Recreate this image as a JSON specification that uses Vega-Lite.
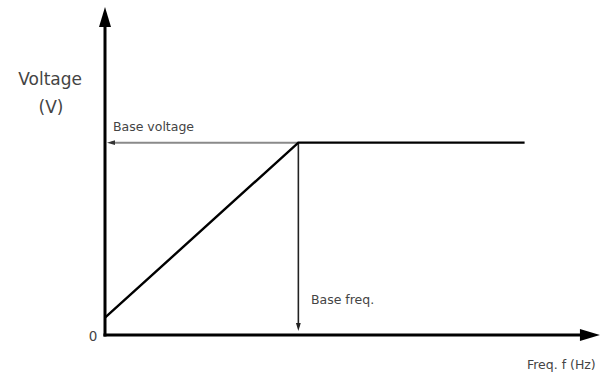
{
  "$schema": "https://vega.github.io/schema/vega-lite/v6.json",
  "width": 495,
  "height": 327,
  "autosize": {"type": "none"},
  "padding": {"left": 105, "top": 8, "right": 2, "bottom": 43},
  "background": "white",
  "config": {
    "view": {"stroke": null},
    "text": {"font": "DejaVu Sans", "color": "#444444"}
  },
  "layer": [
    {
      "description": "Frequency and voltage axes",
      "data": {"values": [
        {"f": -0.8, "v": 0, "f2": 250.8, "v2": 0},
        {"f": 0, "v": -0.8, "f2": 0, "v2": 165.3}
      ]},
      "mark": {"type": "rule", "color": "black", "strokeWidth": 3},
      "encoding": {
        "x": {"field": "f", "type": "quantitative", "scale": {"domain": [0, 256], "nice": false, "zero": false}, "axis": null},
        "y": {"field": "v", "type": "quantitative", "scale": {"domain": [0, 170], "nice": false, "zero": false}, "axis": null},
        "x2": {"field": "f2"},
        "y2": {"field": "v2"}
      }
    },
    {
      "description": "Base voltage guide",
      "data": {"values": [{"f": 100, "v": 100, "f2": 3.1, "v2": 100}]},
      "mark": {"type": "rule", "color": "#8a8a8a", "strokeWidth": 2},
      "encoding": {
        "x": {"field": "f", "type": "quantitative"},
        "y": {"field": "v", "type": "quantitative"},
        "x2": {"field": "f2"},
        "y2": {"field": "v2"}
      }
    },
    {
      "description": "Base frequency guide",
      "data": {"values": [{"f": 100, "v": 100, "f2": 100, "v2": 4.2}]},
      "mark": {"type": "rule", "color": "#222222", "strokeWidth": 1.6},
      "encoding": {
        "x": {"field": "f", "type": "quantitative"},
        "y": {"field": "v", "type": "quantitative"},
        "x2": {"field": "f2"},
        "y2": {"field": "v2"}
      }
    },
    {
      "description": "V/f characteristic",
      "data": {"values": [
        {"f": 0, "v": 9},
        {"f": 100, "v": 100},
        {"f": 217, "v": 100}
      ]},
      "mark": {"type": "line", "color": "black", "strokeWidth": 2.4},
      "encoding": {
        "x": {"field": "f", "type": "quantitative"},
        "y": {"field": "v", "type": "quantitative"}
      }
    },
    {
      "description": "Axis arrowheads",
      "data": {"values": [
        {"f": 0, "v": 165.3, "dir": "up"},
        {"f": 250.8, "v": 0, "dir": "right"}
      ]},
      "mark": {"type": "point", "filled": true, "opacity": 1, "size": 400, "color": "black"},
      "encoding": {
        "x": {"field": "f", "type": "quantitative"},
        "y": {"field": "v", "type": "quantitative"},
        "shape": {
          "field": "dir", "type": "nominal", "legend": null,
          "scale": {"domain": ["up", "right", "left", "down"],
                    "range": ["M0,-1L0.6,1L-0.6,1Z", "M1,0L-1,-0.6L-1,0.6Z", "M-1,0L1,-0.6L1,0.6Z", "M0,1L-0.6,-1L0.6,-1Z"]}
        }
      }
    },
    {
      "description": "Guide arrowheads",
      "data": {"values": [
        {"f": 3.1, "v": 100, "dir": "left"},
        {"f": 100, "v": 4.2, "dir": "down"}
      ]},
      "mark": {"type": "point", "filled": true, "opacity": 1, "size": 64},
      "encoding": {
        "x": {"field": "f", "type": "quantitative"},
        "y": {"field": "v", "type": "quantitative"},
        "shape": {"field": "dir", "type": "nominal", "legend": null},
        "color": {
          "field": "dir", "type": "nominal", "legend": null,
          "scale": {"domain": ["left", "down"], "range": ["#333333", "#222222"]}
        }
      }
    },
    {
      "description": "Vertical axis title",
      "data": {"values": [
        {"label": "Voltage", "f": -28.4, "v": 132.6},
        {"label": "(V)", "f": -27.9, "v": 117.8}
      ]},
      "mark": {"type": "text", "fontSize": 17, "align": "center", "baseline": "middle"},
      "encoding": {
        "x": {"field": "f", "type": "quantitative"},
        "y": {"field": "v", "type": "quantitative"},
        "text": {"field": "label"}
      }
    },
    {
      "description": "Guide labels",
      "data": {"values": [
        {"label": "Base voltage", "f": 4.1, "v": 108.1},
        {"label": "Base freq.", "f": 106.5, "v": 18.2}
      ]},
      "mark": {"type": "text", "fontSize": 12.5, "align": "left", "baseline": "middle"},
      "encoding": {
        "x": {"field": "f", "type": "quantitative"},
        "y": {"field": "v", "type": "quantitative"},
        "text": {"field": "label"}
      }
    },
    {
      "description": "Origin label",
      "data": {"values": [{"label": "0", "f": -6.2, "v": -1.0}]},
      "mark": {"type": "text", "fontSize": 13.5, "align": "center", "baseline": "middle"},
      "encoding": {
        "x": {"field": "f", "type": "quantitative"},
        "y": {"field": "v", "type": "quantitative"},
        "text": {"field": "label"}
      }
    },
    {
      "description": "Horizontal axis title",
      "data": {"values": [{"label": "Freq. f (Hz)", "f": 218.2, "v": -15.6}]},
      "mark": {"type": "text", "fontSize": 12.5, "align": "left", "baseline": "middle"},
      "encoding": {
        "x": {"field": "f", "type": "quantitative"},
        "y": {"field": "v", "type": "quantitative"},
        "text": {"field": "label"}
      }
    }
  ]
}
